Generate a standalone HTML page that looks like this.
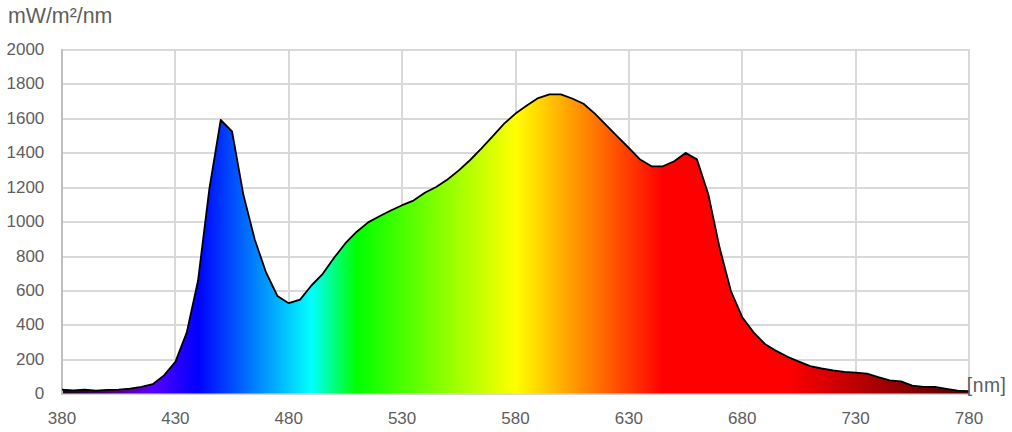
<!DOCTYPE html>
<html><head><meta charset="utf-8"><title>Spectrum</title>
<style>
html,body{margin:0;padding:0;background:#fff;}
body{width:1012px;height:432px;overflow:hidden;position:relative;}
svg{position:absolute;left:0;top:0;display:block;}
text{font-family:"Liberation Sans",Arial,sans-serif;fill:#5e5e5e;}
</style></head>
<body>
<svg width="1012" height="432" viewBox="0 0 1012 432">
  <defs>
    <linearGradient id="spec" gradientUnits="userSpaceOnUse" x1="62.0" y1="0" x2="969.0" y2="0">
      <stop offset="0.00%" stop-color="#210021"/>
      <stop offset="1.25%" stop-color="#260029"/>
      <stop offset="2.50%" stop-color="#300039"/>
      <stop offset="3.75%" stop-color="#3c004f"/>
      <stop offset="5.00%" stop-color="#47006a"/>
      <stop offset="6.25%" stop-color="#50008a"/>
      <stop offset="7.50%" stop-color="#5700ad"/>
      <stop offset="8.75%" stop-color="#5800d4"/>
      <stop offset="10.00%" stop-color="#5500ff"/>
      <stop offset="11.25%" stop-color="#4000ff"/>
      <stop offset="12.50%" stop-color="#2a00ff"/>
      <stop offset="13.75%" stop-color="#1500ff"/>
      <stop offset="15.00%" stop-color="#0000ff"/>
      <stop offset="16.25%" stop-color="#001aff"/>
      <stop offset="17.50%" stop-color="#0033ff"/>
      <stop offset="18.75%" stop-color="#004cff"/>
      <stop offset="20.00%" stop-color="#0066ff"/>
      <stop offset="21.25%" stop-color="#0080ff"/>
      <stop offset="22.50%" stop-color="#0099ff"/>
      <stop offset="23.75%" stop-color="#00b2ff"/>
      <stop offset="25.00%" stop-color="#00ccff"/>
      <stop offset="26.25%" stop-color="#00e6ff"/>
      <stop offset="27.50%" stop-color="#00ffff"/>
      <stop offset="28.75%" stop-color="#00ffbf"/>
      <stop offset="30.00%" stop-color="#00ff80"/>
      <stop offset="31.25%" stop-color="#00ff40"/>
      <stop offset="32.50%" stop-color="#00ff00"/>
      <stop offset="33.75%" stop-color="#12ff00"/>
      <stop offset="35.00%" stop-color="#24ff00"/>
      <stop offset="36.25%" stop-color="#37ff00"/>
      <stop offset="37.50%" stop-color="#49ff00"/>
      <stop offset="38.75%" stop-color="#5bff00"/>
      <stop offset="40.00%" stop-color="#6dff00"/>
      <stop offset="41.25%" stop-color="#80ff00"/>
      <stop offset="42.50%" stop-color="#92ff00"/>
      <stop offset="43.75%" stop-color="#a4ff00"/>
      <stop offset="45.00%" stop-color="#b6ff00"/>
      <stop offset="46.25%" stop-color="#c8ff00"/>
      <stop offset="47.50%" stop-color="#dbff00"/>
      <stop offset="48.75%" stop-color="#edff00"/>
      <stop offset="50.00%" stop-color="#ffff00"/>
      <stop offset="51.25%" stop-color="#ffeb00"/>
      <stop offset="52.50%" stop-color="#ffd800"/>
      <stop offset="53.75%" stop-color="#ffc400"/>
      <stop offset="55.00%" stop-color="#ffb100"/>
      <stop offset="56.25%" stop-color="#ff9d00"/>
      <stop offset="57.50%" stop-color="#ff8900"/>
      <stop offset="58.75%" stop-color="#ff7600"/>
      <stop offset="60.00%" stop-color="#ff6200"/>
      <stop offset="61.25%" stop-color="#ff4e00"/>
      <stop offset="62.50%" stop-color="#ff3b00"/>
      <stop offset="63.75%" stop-color="#ff2700"/>
      <stop offset="65.00%" stop-color="#ff1400"/>
      <stop offset="66.25%" stop-color="#ff0000"/>
      <stop offset="67.50%" stop-color="#ff0000"/>
      <stop offset="68.75%" stop-color="#ff0000"/>
      <stop offset="70.00%" stop-color="#ff0000"/>
      <stop offset="71.25%" stop-color="#ff0000"/>
      <stop offset="72.50%" stop-color="#ff0000"/>
      <stop offset="73.75%" stop-color="#ff0000"/>
      <stop offset="75.00%" stop-color="#ff0000"/>
      <stop offset="76.25%" stop-color="#ff0000"/>
      <stop offset="77.50%" stop-color="#ff0000"/>
      <stop offset="78.75%" stop-color="#ff0000"/>
      <stop offset="80.00%" stop-color="#ff0000"/>
      <stop offset="81.25%" stop-color="#f40000"/>
      <stop offset="82.50%" stop-color="#e90000"/>
      <stop offset="83.75%" stop-color="#de0000"/>
      <stop offset="85.00%" stop-color="#d20000"/>
      <stop offset="86.25%" stop-color="#c70000"/>
      <stop offset="87.50%" stop-color="#bc0000"/>
      <stop offset="88.75%" stop-color="#b10000"/>
      <stop offset="90.00%" stop-color="#a60000"/>
      <stop offset="91.25%" stop-color="#9b0000"/>
      <stop offset="92.50%" stop-color="#8f0000"/>
      <stop offset="93.75%" stop-color="#840000"/>
      <stop offset="95.00%" stop-color="#790000"/>
      <stop offset="96.25%" stop-color="#6e0000"/>
      <stop offset="97.50%" stop-color="#630000"/>
      <stop offset="98.75%" stop-color="#580000"/>
      <stop offset="100.00%" stop-color="#4c0000"/>
    </linearGradient>
  </defs>
  <g stroke="#d9d9d9" stroke-width="2" fill="none">
    <line x1="62.0" x2="970.0" y1="50.00" y2="50.00"/>
    <line x1="62.0" x2="970.0" y1="84.00" y2="84.00"/>
    <line x1="62.0" x2="970.0" y1="119.00" y2="119.00"/>
    <line x1="62.0" x2="970.0" y1="153.00" y2="153.00"/>
    <line x1="62.0" x2="970.0" y1="188.00" y2="188.00"/>
    <line x1="62.0" x2="970.0" y1="222.00" y2="222.00"/>
    <line x1="62.0" x2="970.0" y1="257.00" y2="257.00"/>
    <line x1="62.0" x2="970.0" y1="291.00" y2="291.00"/>
    <line x1="62.0" x2="970.0" y1="325.00" y2="325.00"/>
    <line x1="62.0" x2="970.0" y1="360.00" y2="360.00"/>
    <line x1="175.00" x2="175.00" y1="49.0" y2="394.0"/>
    <line x1="289.00" x2="289.00" y1="49.0" y2="394.0"/>
    <line x1="402.00" x2="402.00" y1="49.0" y2="394.0"/>
    <line x1="516.00" x2="516.00" y1="49.0" y2="394.0"/>
    <line x1="629.00" x2="629.00" y1="49.0" y2="394.0"/>
    <line x1="742.00" x2="742.00" y1="49.0" y2="394.0"/>
    <line x1="856.00" x2="856.00" y1="49.0" y2="394.0"/>
    <line x1="969.00" x2="969.00" y1="49.0" y2="394.0"/>
  </g>
  <rect x="62.0" y="393.0" width="908.0" height="2" fill="#d6d6d6"/>
  <polygon points="62.00,393.45 62.00,389.60 73.34,390.40 84.67,389.60 96.01,390.60 107.35,389.80 118.69,389.60 130.03,388.70 141.36,386.90 152.70,384.20 164.04,375.40 175.38,361.80 186.71,332.60 198.05,280.50 209.39,188.60 220.72,120.00 232.06,131.50 243.40,194.80 254.74,239.50 266.07,272.50 277.41,296.00 288.75,303.20 300.09,299.60 311.43,285.50 322.76,273.80 334.10,257.80 345.44,243.20 356.77,231.70 368.11,222.40 379.45,216.20 390.79,210.50 402.12,205.20 413.46,200.60 424.80,192.80 436.14,187.00 447.48,179.50 458.81,170.40 470.15,160.00 481.49,148.40 492.82,136.20 504.16,123.60 515.50,113.60 526.84,105.50 538.17,98.10 549.51,94.40 560.85,94.40 572.19,98.50 583.52,103.80 594.86,113.60 606.20,125.10 617.54,136.70 628.88,148.00 640.21,159.60 651.55,166.30 662.89,166.30 674.23,161.20 685.56,152.90 696.90,159.40 708.24,194.00 719.58,247.60 730.91,291.00 742.25,317.20 753.59,332.40 764.92,344.00 776.26,350.90 787.60,356.80 798.94,361.60 810.27,366.20 821.61,368.50 832.95,370.30 844.29,371.80 855.62,372.60 866.96,373.70 878.30,377.20 889.64,380.30 900.98,381.40 912.31,385.60 923.65,386.80 934.99,386.80 946.33,388.80 957.66,390.70 969.00,391.10 969.00,393.45" fill="url(#spec)"/>
  <line x1="62.0" x2="62.0" y1="49.0" y2="395.0" stroke="#bfbfbf" stroke-width="2"/>
  <polyline points="62.00,389.60 73.34,390.40 84.67,389.60 96.01,390.60 107.35,389.80 118.69,389.60 130.03,388.70 141.36,386.90 152.70,384.20 164.04,375.40 175.38,361.80 186.71,332.60 198.05,280.50 209.39,188.60 220.72,120.00 232.06,131.50 243.40,194.80 254.74,239.50 266.07,272.50 277.41,296.00 288.75,303.20 300.09,299.60 311.43,285.50 322.76,273.80 334.10,257.80 345.44,243.20 356.77,231.70 368.11,222.40 379.45,216.20 390.79,210.50 402.12,205.20 413.46,200.60 424.80,192.80 436.14,187.00 447.48,179.50 458.81,170.40 470.15,160.00 481.49,148.40 492.82,136.20 504.16,123.60 515.50,113.60 526.84,105.50 538.17,98.10 549.51,94.40 560.85,94.40 572.19,98.50 583.52,103.80 594.86,113.60 606.20,125.10 617.54,136.70 628.88,148.00 640.21,159.60 651.55,166.30 662.89,166.30 674.23,161.20 685.56,152.90 696.90,159.40 708.24,194.00 719.58,247.60 730.91,291.00 742.25,317.20 753.59,332.40 764.92,344.00 776.26,350.90 787.60,356.80 798.94,361.60 810.27,366.20 821.61,368.50 832.95,370.30 844.29,371.80 855.62,372.60 866.96,373.70 878.30,377.20 889.64,380.30 900.98,381.40 912.31,385.60 923.65,386.80 934.99,386.80 946.33,388.80 957.66,390.70 969.00,391.10" fill="none" stroke="#000" stroke-width="1.8" stroke-linejoin="round"/>
  <g font-size="17">
    <text x="44.3" y="55.2" text-anchor="end">2000</text>
    <text x="44.3" y="89.2" text-anchor="end">1800</text>
    <text x="44.3" y="124.2" text-anchor="end">1600</text>
    <text x="44.3" y="158.2" text-anchor="end">1400</text>
    <text x="44.3" y="193.2" text-anchor="end">1200</text>
    <text x="44.3" y="227.2" text-anchor="end">1000</text>
    <text x="44.3" y="262.2" text-anchor="end">800</text>
    <text x="44.3" y="296.2" text-anchor="end">600</text>
    <text x="44.3" y="330.2" text-anchor="end">400</text>
    <text x="44.3" y="365.2" text-anchor="end">200</text>
    <text x="44.3" y="399.2" text-anchor="end">0</text>
    <text x="62.0" y="424" text-anchor="middle">380</text>
    <text x="175.4" y="424" text-anchor="middle">430</text>
    <text x="288.8" y="424" text-anchor="middle">480</text>
    <text x="402.1" y="424" text-anchor="middle">530</text>
    <text x="515.5" y="424" text-anchor="middle">580</text>
    <text x="628.9" y="424" text-anchor="middle">630</text>
    <text x="742.2" y="424" text-anchor="middle">680</text>
    <text x="855.6" y="424" text-anchor="middle">730</text>
    <text x="969.0" y="424" text-anchor="middle">780</text>
  </g>
  <text x="966.8" y="392.2" font-size="19.3" letter-spacing="0.5">[nm]</text>
  <text x="7.9" y="23.3" font-size="21.4">mW/m²/nm</text>
</svg>
</body></html>
